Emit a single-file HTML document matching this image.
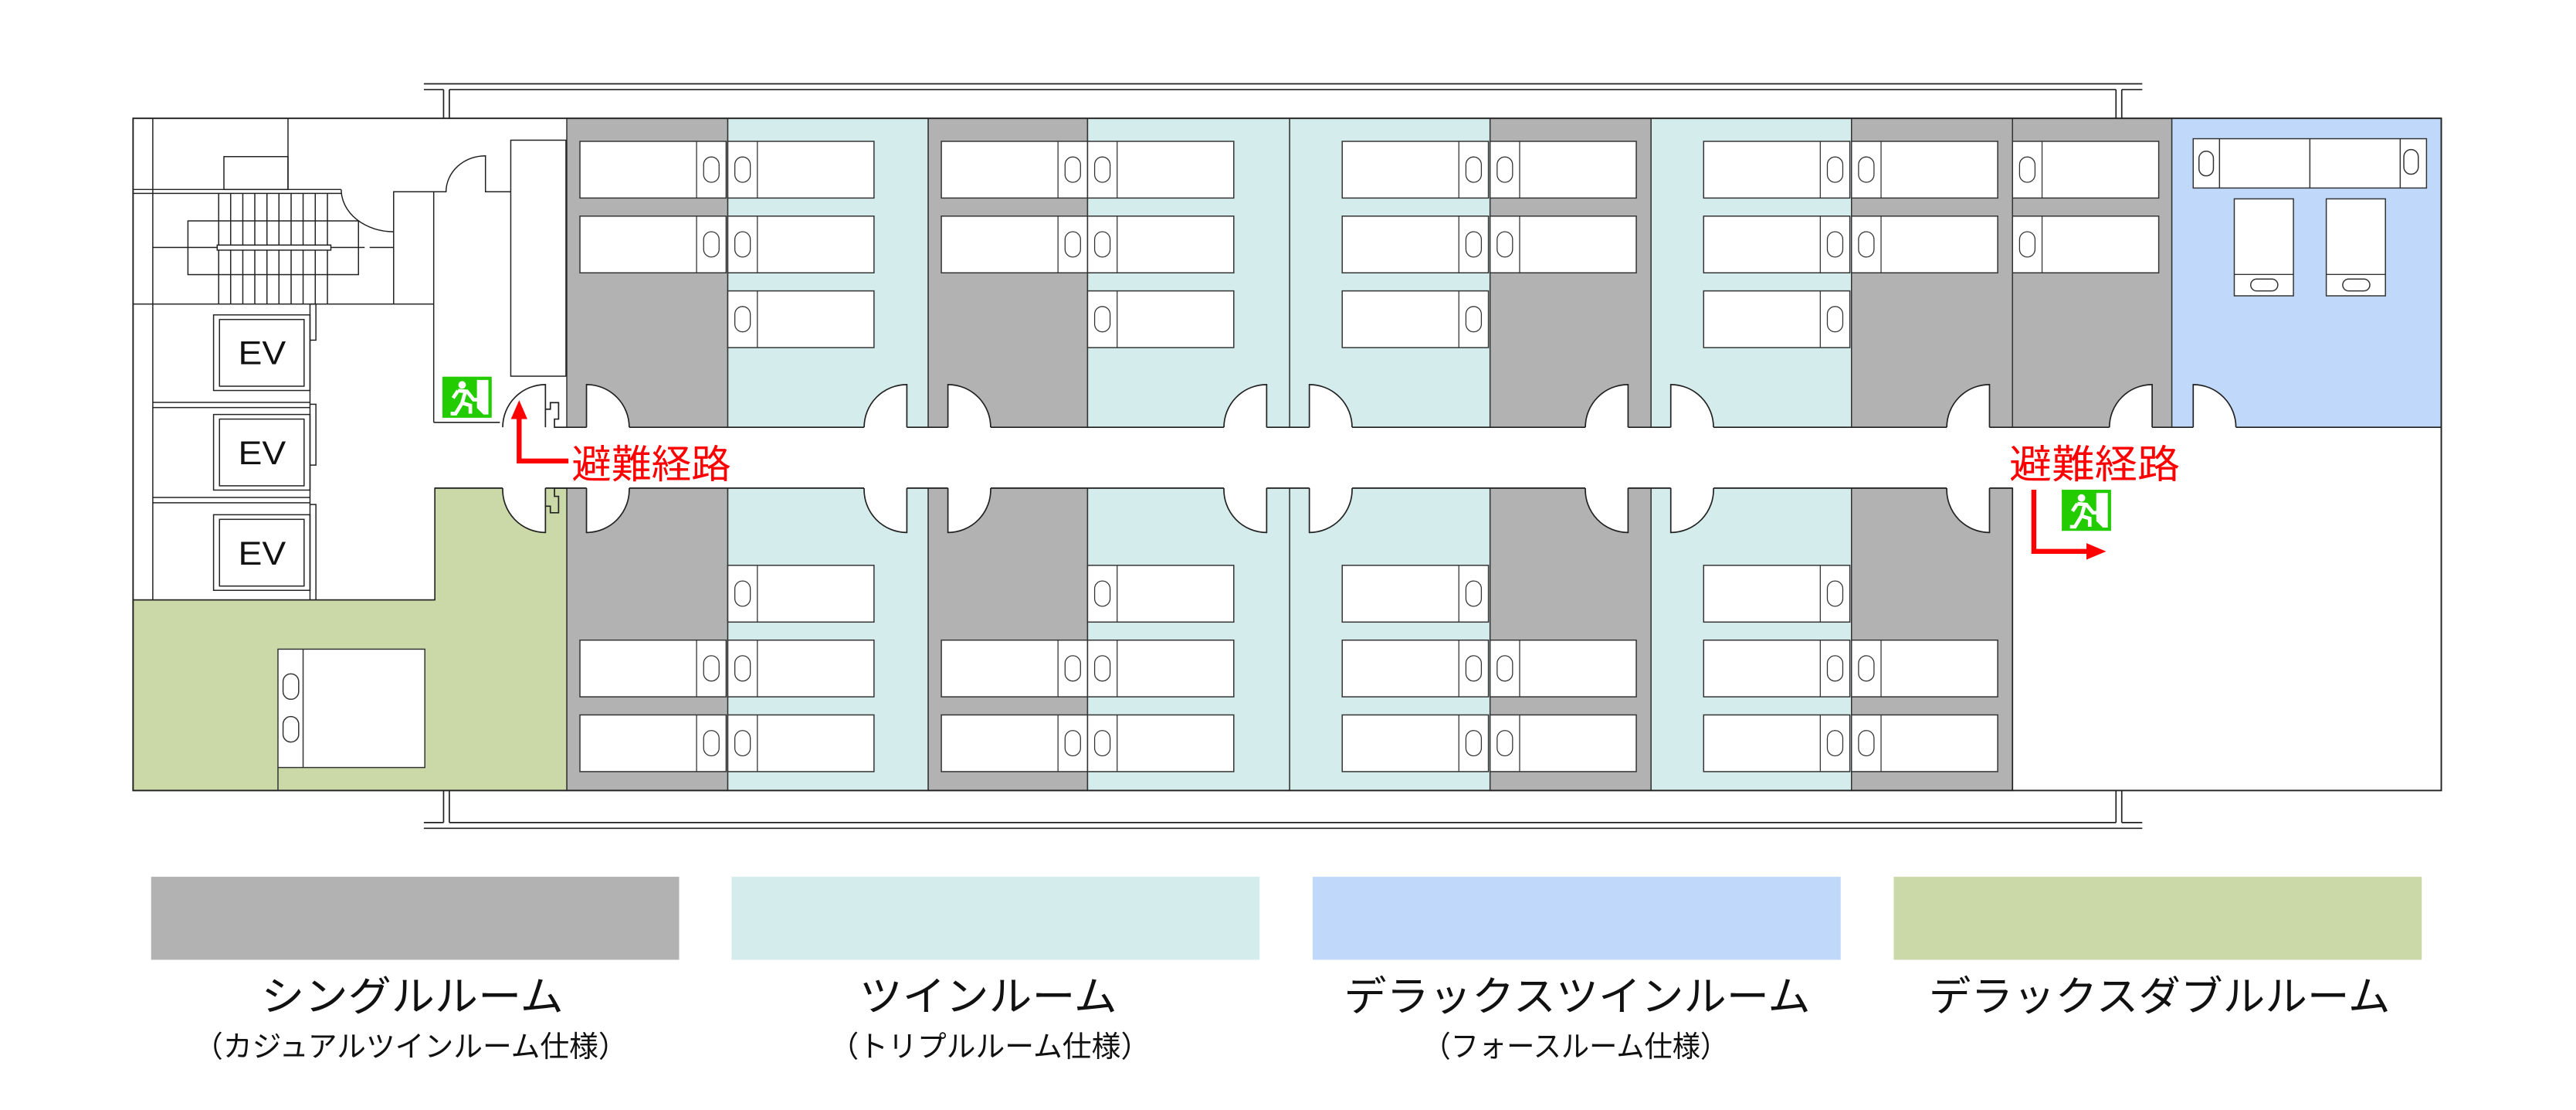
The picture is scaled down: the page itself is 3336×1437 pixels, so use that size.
<!DOCTYPE html>
<html><head><meta charset="utf-8"><style>
html,body{margin:0;padding:0;background:#fff;}
svg{display:block;}
text{font-family:"Liberation Sans","Noto Sans CJK JP",sans-serif;}
</style></head><body>
<svg xmlns="http://www.w3.org/2000/svg" width="3336" height="1437" viewBox="0 0 1568 675.4" preserveAspectRatio="none">
<defs>
<g id="bedL"><rect x="0" y="0" width="89" height="34.5" fill="#fff" stroke="#333" stroke-width="0.7"/><line x1="18" y1="0" x2="18" y2="34.5" stroke="#333" stroke-width="0.6"/><rect x="4.3" y="9.5" width="9.4" height="15.4" rx="4.7" fill="#fff" stroke="#333" stroke-width="0.6"/></g>
<g id="bedR"><rect x="0" y="0" width="89" height="34.5" fill="#fff" stroke="#333" stroke-width="0.7"/><line x1="71" y1="0" x2="71" y2="34.5" stroke="#333" stroke-width="0.6"/><rect x="75.3" y="9.5" width="9.4" height="15.4" rx="4.7" fill="#fff" stroke="#333" stroke-width="0.6"/></g>
<g id="exit"><rect x="0" y="0" width="30" height="25" fill="#22cc00"/><path d="M21 2 H28 V23 H25 L21 19 Z" fill="#fff"/><circle cx="12" cy="5" r="2.3" fill="#fff"/><path d="M9.5 8.5 L15 9 L19 14 L22 14 M14 9 L12 16 L17 17.5 L17 22.5 M12 16 L8 22.5 L5 22.5 M9.5 8.5 L6.5 13" fill="none" stroke="#fff" stroke-width="2.2"/></g>
</defs>
<g stroke="#222" stroke-width="0.8" fill="none">
<line x1="258" y1="51" x2="1304" y2="51"/><line x1="258" y1="54.5" x2="270" y2="54.5"/><line x1="273.5" y1="54.5" x2="1288" y2="54.5"/><line x1="1291.5" y1="54.5" x2="1304" y2="54.5"/>
<line x1="270" y1="54.5" x2="270" y2="72"/><line x1="273.5" y1="54.5" x2="273.5" y2="72"/><line x1="1288" y1="54.5" x2="1288" y2="72"/><line x1="1291.5" y1="54.5" x2="1291.5" y2="72"/>
<line x1="258" y1="504" x2="1304" y2="504"/><line x1="258" y1="500.5" x2="270" y2="500.5"/><line x1="273.5" y1="500.5" x2="1288" y2="500.5"/><line x1="1291.5" y1="500.5" x2="1304" y2="500.5"/>
<line x1="270" y1="481" x2="270" y2="500.5"/><line x1="273.5" y1="481" x2="273.5" y2="500.5"/><line x1="1288" y1="481" x2="1288" y2="500.5"/><line x1="1291.5" y1="481" x2="1291.5" y2="500.5"/>
</g>
<g stroke="#333" stroke-width="0.7">
<rect x="345" y="72" width="98" height="188" fill="#b2b2b2"/>
<rect x="443" y="72" width="122" height="188" fill="#d5ecec"/>
<rect x="565" y="72" width="97" height="188" fill="#b2b2b2"/>
<rect x="662" y="72" width="123" height="188" fill="#d5ecec"/>
<rect x="785" y="72" width="122" height="188" fill="#d5ecec"/>
<rect x="907" y="72" width="98" height="188" fill="#b2b2b2"/>
<rect x="1005" y="72" width="122" height="188" fill="#d5ecec"/>
<rect x="1127" y="72" width="98" height="188" fill="#b2b2b2"/>
<rect x="1225" y="72" width="97" height="188" fill="#b2b2b2"/>
<rect x="1322" y="72" width="164" height="188" fill="#c0d9fb"/>
<rect x="345" y="297" width="98" height="184" fill="#b2b2b2"/>
<rect x="443" y="297" width="122" height="184" fill="#d5ecec"/>
<rect x="565" y="297" width="97" height="184" fill="#b2b2b2"/>
<rect x="662" y="297" width="123" height="184" fill="#d5ecec"/>
<rect x="785" y="297" width="122" height="184" fill="#d5ecec"/>
<rect x="907" y="297" width="98" height="184" fill="#b2b2b2"/>
<rect x="1005" y="297" width="122" height="184" fill="#d5ecec"/>
<rect x="1127" y="297" width="98" height="184" fill="#b2b2b2"/>
<path d="M264.7 297 H345 V481 H81 V365 H264.7 Z" fill="#cbd9a9"/>
</g>
<rect x="81" y="72" width="1405" height="409" fill="none" stroke="#222" stroke-width="0.9"/>
<line x1="1225" y1="297" x2="1225" y2="481" stroke="#222" stroke-width="0.8"/>
<g stroke="#222" stroke-width="0.7" fill="none">
<line x1="93" y1="72" x2="93" y2="365"/>
<line x1="175.3" y1="72" x2="175.3" y2="115.3"/>
<rect x="136.3" y="95.3" width="39" height="20"/>
<line x1="81" y1="115.3" x2="207.7" y2="115.3"/><line x1="81" y1="117.7" x2="207.7" y2="117.7"/>
<path d="M133.1 117.7 V185 M140.4 117.7 V185 M147.8 117.7 V185 M155.1 117.7 V185 M162.5 117.7 V185 M169.8 117.7 V185 M177.2 117.7 V185 M184.5 117.7 V185 M191.9 117.7 V185 M199.3 117.7 V185"/>
<rect x="114.4" y="134.4" width="103.8" height="32.7"/>
<rect x="132.2" y="149.1" width="69.2" height="3.1" fill="#fff"/>
<line x1="93" y1="150.6" x2="132.2" y2="150.6"/>
<path d="M201.4 150.6 H222 M225 150.6 H239.6" />
<path d="M207.7 115.3 A31.9 25.7 0 0 0 239.6 141"/>
<line x1="81" y1="185" x2="264" y2="185"/>
<path d="M239.6 185 V116.7 H271.5 A24 22 0 0 1 295.5 94.8 V116.7 H310.9"/>
<line x1="264" y1="116.7" x2="264" y2="257"/>
<rect x="310.9" y="85.3" width="33.6" height="143.6"/>
<rect x="130" y="191.6" width="58.7" height="46"/><rect x="133.6" y="194.4" width="51.5" height="40.6"/>
<rect x="130" y="252.2" width="58.7" height="46"/><rect x="133.6" y="255" width="51.5" height="40.6"/>
<rect x="130" y="313.2" width="58.7" height="46"/><rect x="133.6" y="316" width="51.5" height="40.6"/>
<line x1="93" y1="244.8" x2="188.7" y2="244.8"/><line x1="93" y1="248" x2="188.7" y2="248"/>
<line x1="93" y1="302.7" x2="188.7" y2="302.7"/><line x1="93" y1="305.9" x2="188.7" y2="305.9"/>
<line x1="188.7" y1="185" x2="188.7" y2="365"/>
<path d="M188.7 185 H192.3 V207 H188.7 M188.7 246 H192.3 V283 H188.7 M188.7 307 H192.3 V365"/>
<line x1="264.7" y1="297" x2="264.7" y2="365"/>
<line x1="81" y1="365" x2="264.7" y2="365"/>
</g>
<g font-size="20" fill="#111" text-anchor="middle"><text x="159.5" y="221.5" textLength="29" lengthAdjust="spacingAndGlyphs">EV</text><text x="159.5" y="282.5" textLength="29" lengthAdjust="spacingAndGlyphs">EV</text><text x="159.5" y="343.5" textLength="29" lengthAdjust="spacingAndGlyphs">EV</text></g>
<g stroke="#222" stroke-width="0.8" fill="none">
<line x1="337.5" y1="260" x2="1486" y2="260"/>
<line x1="264.7" y1="297" x2="1225" y2="297"/>
<path d="M330.6 235 V249 H335 V245 H340 V255 H337.5 V260 H345"/>
<path d="M330.6 322 V308 H335 V312 H340 V302 H337.5 V297 H345"/>
</g>
<g fill="#fff" stroke="none">
<path d="M332 261 V234 A26 26 0 0 0 306 261 Z"/>
<path d="M357 261 V234 A26 26 0 0 1 383 261 Z"/>
<path d="M552 261 V234 A26 26 0 0 0 526 261 Z"/>
<path d="M577 261 V234 A26 26 0 0 1 603 261 Z"/>
<path d="M771 261 V234 A26 26 0 0 0 745 261 Z"/>
<path d="M797 261 V234 A26 26 0 0 1 823 261 Z"/>
<path d="M991 261 V234 A26 26 0 0 0 965 261 Z"/>
<path d="M1017 261 V234 A26 26 0 0 1 1043 261 Z"/>
<path d="M1211 261 V234 A26 26 0 0 0 1185 261 Z"/>
<path d="M1310 261 V234 A26 26 0 0 0 1284 261 Z"/>
<path d="M1335 261 V234 A26 26 0 0 1 1361 261 Z"/>
<path d="M332 296 V324 A26 26 0 0 1 306 296 Z"/>
<path d="M357 296 V324 A26 26 0 0 0 383 296 Z"/>
<path d="M552 296 V324 A26 26 0 0 1 526 296 Z"/>
<path d="M577 296 V324 A26 26 0 0 0 603 296 Z"/>
<path d="M771 296 V324 A26 26 0 0 1 745 296 Z"/>
<path d="M797 296 V324 A26 26 0 0 0 823 296 Z"/>
<path d="M991 296 V324 A26 26 0 0 1 965 296 Z"/>
<path d="M1017 296 V324 A26 26 0 0 0 1043 296 Z"/>
<path d="M1211 296 V324 A26 26 0 0 1 1185 296 Z"/>
<rect x="264" y="257.6" width="70" height="3"/>
</g>
<g stroke="#222" stroke-width="0.8" fill="none">
<path d="M332 260 V234 A26 26 0 0 0 306 260"/>
<path d="M357 260 V234 A26 26 0 0 1 383 260"/>
<path d="M552 260 V234 A26 26 0 0 0 526 260"/>
<path d="M577 260 V234 A26 26 0 0 1 603 260"/>
<path d="M771 260 V234 A26 26 0 0 0 745 260"/>
<path d="M797 260 V234 A26 26 0 0 1 823 260"/>
<path d="M991 260 V234 A26 26 0 0 0 965 260"/>
<path d="M1017 260 V234 A26 26 0 0 1 1043 260"/>
<path d="M1211 260 V234 A26 26 0 0 0 1185 260"/>
<path d="M1310 260 V234 A26 26 0 0 0 1284 260"/>
<path d="M1335 260 V234 A26 26 0 0 1 1361 260"/>
<path d="M332 297 V324 A26 26 0 0 1 306 297"/>
<path d="M357 297 V324 A26 26 0 0 0 383 297"/>
<path d="M552 297 V324 A26 26 0 0 1 526 297"/>
<path d="M577 297 V324 A26 26 0 0 0 603 297"/>
<path d="M771 297 V324 A26 26 0 0 1 745 297"/>
<path d="M797 297 V324 A26 26 0 0 0 823 297"/>
<path d="M991 297 V324 A26 26 0 0 1 965 297"/>
<path d="M1017 297 V324 A26 26 0 0 0 1043 297"/>
<path d="M1211 297 V324 A26 26 0 0 1 1185 297"/>
<line x1="264" y1="257" x2="304.3" y2="257"/>
</g>
<use href="#bedR" x="353" y="86"/><use href="#bedR" x="353" y="131.5"/>
<use href="#bedL" x="443" y="86"/><use href="#bedL" x="443" y="131.5"/><use href="#bedL" x="443" y="177"/>
<use href="#bedR" x="573" y="86"/><use href="#bedR" x="573" y="131.5"/>
<use href="#bedL" x="662" y="86"/><use href="#bedL" x="662" y="131.5"/><use href="#bedL" x="662" y="177"/>
<use href="#bedR" x="817" y="86"/><use href="#bedR" x="817" y="131.5"/><use href="#bedR" x="817" y="177"/>
<use href="#bedL" x="907" y="86"/><use href="#bedL" x="907" y="131.5"/>
<use href="#bedR" x="1037" y="86"/><use href="#bedR" x="1037" y="131.5"/><use href="#bedR" x="1037" y="177"/>
<use href="#bedL" x="1127" y="86"/><use href="#bedL" x="1127" y="131.5"/>
<use href="#bedL" x="1225" y="86"/><use href="#bedL" x="1225" y="131.5"/>
<use href="#bedR" x="353" y="389.5"/><use href="#bedR" x="353" y="435"/>
<use href="#bedL" x="443" y="344"/><use href="#bedL" x="443" y="389.5"/><use href="#bedL" x="443" y="435"/>
<use href="#bedR" x="573" y="389.5"/><use href="#bedR" x="573" y="435"/>
<use href="#bedL" x="662" y="344"/><use href="#bedL" x="662" y="389.5"/><use href="#bedL" x="662" y="435"/>
<use href="#bedR" x="817" y="344"/><use href="#bedR" x="817" y="389.5"/><use href="#bedR" x="817" y="435"/>
<use href="#bedL" x="907" y="389.5"/><use href="#bedL" x="907" y="435"/>
<use href="#bedR" x="1037" y="344"/><use href="#bedR" x="1037" y="389.5"/><use href="#bedR" x="1037" y="435"/>
<use href="#bedL" x="1127" y="389.5"/><use href="#bedL" x="1127" y="435"/>
<g stroke="#333" stroke-width="0.7" fill="#fff">
<rect x="1335" y="84.4" width="142" height="30"/>
<line x1="1351" y1="84.4" x2="1351" y2="114.4"/><line x1="1406" y1="84.4" x2="1406" y2="114.4"/><line x1="1461" y1="84.4" x2="1461" y2="114.4"/>
<rect x="1338.5" y="92" width="8.8" height="15" rx="4.4"/><rect x="1463.2" y="91" width="8.8" height="15" rx="4.4"/>
<rect x="1360" y="121" width="36" height="59"/><line x1="1360" y1="167" x2="1396" y2="167"/><rect x="1370" y="169.8" width="16.5" height="7.2" rx="3.6"/>
<rect x="1416" y="121" width="36" height="59"/><line x1="1416" y1="167" x2="1452" y2="167"/><rect x="1426" y="169.8" width="16.5" height="7.2" rx="3.6"/>
<rect x="169.2" y="395" width="89.4" height="72"/><line x1="184.5" y1="395" x2="184.5" y2="467"/>
<rect x="172.3" y="410" width="9.5" height="15.5" rx="4.7"/><rect x="172.3" y="436" width="9.5" height="15.5" rx="4.7"/>
</g>
<line x1="169.2" y1="467" x2="169.2" y2="481" stroke="#333" stroke-width="0.7"/>
<use href="#exit" x="269.3" y="229.2"/>
<use href="#exit" x="1255" y="298"/>
<g stroke="#f00" stroke-width="3" fill="none">
<path d="M316 252 V280.5 H346"/>
<path d="M1238 298 V335.5 H1272"/>
</g>
<path d="M316 243.5 L311 255 L321 255 Z" fill="#f00"/>
<path d="M1282 335.5 L1270 330.5 L1270 340.5 Z" fill="#f00"/>
<g font-size="24" fill="#f00"><text x="348" y="291" textLength="97" lengthAdjust="spacingAndGlyphs">避難経路</text><text x="1223" y="291" textLength="104" lengthAdjust="spacingAndGlyphs">避難経路</text></g>
<rect x="92" y="533.5" width="321.4" height="50.5" fill="#b2b2b2"/>
<rect x="445.3" y="533.5" width="321.4" height="50.5" fill="#d5ecec"/>
<rect x="799" y="533.5" width="321.4" height="50.5" fill="#c0d9fb"/>
<rect x="1152.7" y="533.5" width="321.4" height="50.5" fill="#cbd9a9"/>
<g font-size="25" fill="#111">
<text x="159" y="615" textLength="184" lengthAdjust="spacingAndGlyphs">シングルルーム</text>
<text x="523" y="615" textLength="157" lengthAdjust="spacingAndGlyphs">ツインルーム</text>
<text x="818" y="615" textLength="284" lengthAdjust="spacingAndGlyphs">デラックスツインルーム</text>
<text x="1174" y="615" textLength="281" lengthAdjust="spacingAndGlyphs">デラックスダブルルーム</text>
</g>
<g font-size="18" fill="#111">
<text x="118" y="643" textLength="264" lengthAdjust="spacingAndGlyphs">（カジュアルツインルーム仕様）</text>
<text x="505" y="643" textLength="195" lengthAdjust="spacingAndGlyphs">（トリプルルーム仕様）</text>
<text x="866" y="643" textLength="186" lengthAdjust="spacingAndGlyphs">（フォースルーム仕様）</text>
</g>
</svg>
</body></html>
